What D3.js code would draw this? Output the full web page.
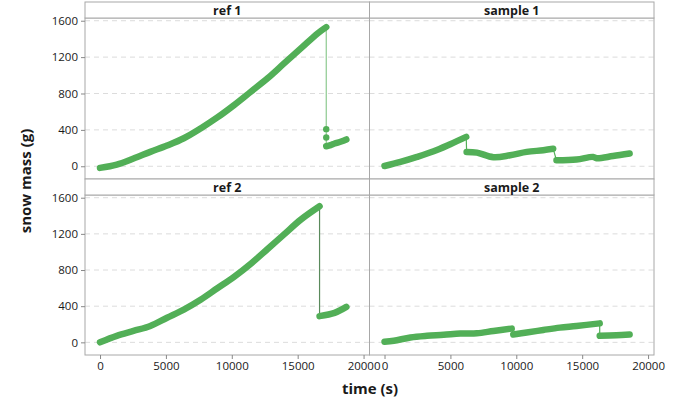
<!DOCTYPE html>
<html>
<head>
<meta charset="utf-8">
<script src="https://cdn.jsdelivr.net/npm/d3@7"></script>
<style>
  body { margin: 0; background: #fff; }
  text { font-family: "Open Sans", "Noto Sans", sans-serif; fill: #1a1a1a; }
</style>
</head>
<body>
<div id="chart"></div>
<script>
// panel titles, in reading order
const panelNames = ['ref 1', 'sample 1', 'ref 2', 'sample 2'];
const yTicks = [0, 400, 800, 1200, 1600];
const xTicks = [0, 5000, 10000, 15000, 20000];

// each series is a list of dense runs [time (s), mass (g)]; runs are joined by a thin line
const ref1 = [
  [[0, -18], [1272, 18], [2543, 85], [3815, 158], [5087, 228], [6358, 308], [7630, 416],
   [8902, 537], [10173, 673], [11445, 820], [12717, 967], [13988, 1133], [15260, 1298],
   [16532, 1463], [17168, 1530]],
  [[17168, 220], [17500, 232], [17803, 250], [18300, 272], [18694, 295]]
];
const ref1Loose = [[17168, 408], [17168, 316]];

const sample1 = [
  [[0, 3], [1210, 48], [2470, 103], [3730, 165], [4990, 243], [6200, 323]],
  [[6230, 158], [7010, 150], [8260, 100], [9530, 121], [10790, 158], [12050, 176], [12800, 192]],
  [[13050, 66], [14570, 74], [15830, 103], [16090, 88], [17340, 112], [18600, 140]]
];

const ref2 = [
  [[0, 0], [1272, 72], [2543, 126], [3815, 181], [5087, 272], [6358, 362], [7630, 471],
   [8902, 598], [10173, 725], [11445, 870], [12717, 1033], [13988, 1197], [15260, 1360],
   [16660, 1505]],
  [[16660, 290], [17803, 326], [18694, 392]]
];

const sample2 = [
  [[0, 7], [706, 18], [1966, 54], [3226, 72], [4486, 83], [5746, 98], [7006, 101],
   [8266, 126], [9650, 152]],
  [[9770, 87], [10790, 109], [12050, 137], [13300, 163], [14570, 181], [16330, 210]],
  [[16330, 72], [17590, 79], [18600, 87]]
];

const seriesList = [ref1, sample1, ref2, sample2];
const looseList = [ref1Loose, [], [], []];
const joinColor = ['#8cc98f', '#52af57', '#5a8a5c', '#52af57'];

const width = 689, height = 403;
const colX = [85, 369.5], panelW = 284.5;
const rows = [{ strip: 2, top: 18, bottom: 179 }, { strip: 179, top: 195, bottom: 355 }];
const green = '#52af57';

const svg = d3.select('#chart').append('svg')
  .attr('width', width).attr('height', height);

const x = d3.scaleLinear().domain([-1140, 20450]).range([0, panelW]);

panelNames.forEach((name, i) => {
  const col = i % 2, row = rows[Math.floor(i / 2)];
  const y = d3.scaleLinear().domain([-140, 1630]).range([row.bottom - row.top, 0]);
  const g = svg.append('g').attr('transform', `translate(${colX[col]}, ${row.top})`);
  const h = row.bottom - row.top;

  // dashed gridlines
  g.selectAll('.grid').data(yTicks).enter().append('line')
    .attr('x1', 0).attr('x2', panelW)
    .attr('y1', d => y(d)).attr('y2', d => y(d))
    .attr('stroke', '#dcdcdc').attr('stroke-dasharray', '5,4');

  const clip = 'clip' + i;
  g.append('clipPath').attr('id', clip).append('rect').attr('width', panelW).attr('height', h);
  const plot = g.append('g').attr('clip-path', `url(#${clip})`);

  const thin = d3.line().x(d => x(d[0])).y(d => y(d[1]));
  const thick = d3.line().x(d => x(d[0])).y(d => y(d[1])).curve(d3.curveCatmullRom.alpha(0.5));
  const runs = seriesList[i];

  // thin join through everything
  plot.append('path')
    .datum(runs.flat())
    .attr('d', thin)
    .attr('fill', 'none').attr('stroke', joinColor[i]).attr('stroke-width', 1.2);

  runs.forEach(run => {
    plot.append('path')
      .datum(run)
      .attr('d', thick)
      .attr('fill', 'none').attr('stroke', green)
      .attr('stroke-width', 6.5).attr('stroke-linecap', 'round').attr('stroke-linejoin', 'round');
  });

  plot.selectAll('.pt').data(looseList[i]).enter().append('circle')
    .attr('cx', d => x(d[0])).attr('cy', d => y(d[1])).attr('r', 3.2).attr('fill', green);

  // frame
  g.append('rect').attr('width', panelW).attr('height', h)
    .attr('fill', 'none').attr('stroke', '#a8a8a8');

  // strip
  svg.append('rect')
    .attr('x', colX[col]).attr('y', row.strip)
    .attr('width', panelW).attr('height', row.top - row.strip)
    .attr('fill', '#fff').attr('stroke', '#a8a8a8');
  svg.append('text')
    .attr('x', colX[col] + panelW / 2).attr('y', row.strip + (row.top - row.strip) / 2 + 4.5)
    .attr('text-anchor', 'middle').style('font-size', '12.5px').style('font-weight', 'bold')
    .text(name);

  // y axis on left column
  if (col === 0) {
    const ax = g.append('g').call(d3.axisLeft(y).tickValues(yTicks).tickFormat(d3.format('d')).tickSize(4).tickPadding(3));
    ax.select('.domain').remove();
    ax.selectAll('line').attr('stroke', '#888');
    ax.selectAll('text').style('font-size', '11.5px').style('font-family', '"Open Sans", sans-serif').attr('fill', '#1a1a1a');
  }
  // x axis on bottom row
  if (i >= 2) {
    const ax = g.append('g').attr('transform', `translate(0, ${h})`)
      .call(d3.axisBottom(x).tickValues(xTicks).tickFormat(d3.format('d')).tickSize(4).tickPadding(3));
    ax.select('.domain').remove();
    ax.selectAll('line').attr('stroke', '#888');
    ax.selectAll('text').style('font-size', '11.5px').style('font-family', '"Open Sans", sans-serif').attr('fill', '#1a1a1a');
  }
});

svg.append('text')
  .attr('transform', 'translate(31, 181) rotate(-90)')
  .attr('text-anchor', 'middle').style('font-size', '15px').style('font-weight', 'bold')
  .text('snow mass (g)');

svg.append('text')
  .attr('x', 370).attr('y', 394)
  .attr('text-anchor', 'middle').style('font-size', '15px').style('font-weight', 'bold')
  .text('time (s)');
</script>
</body>
</html>
